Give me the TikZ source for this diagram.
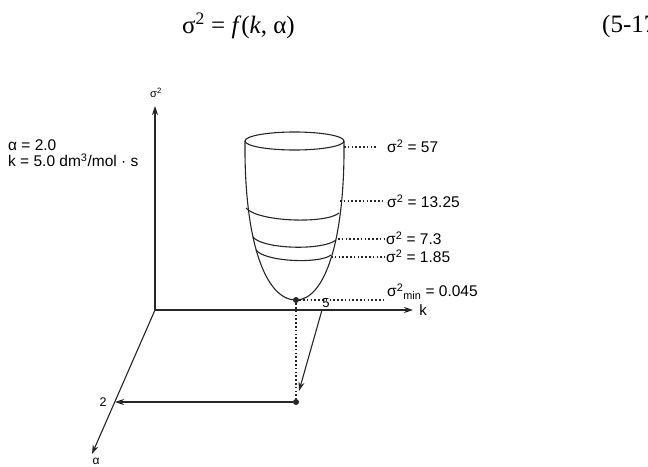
\documentclass[tikz,border=0pt]{standalone}
\usepackage{fontspec}
\setmainfont{Liberation Serif}
\newfontfamily\labelfont{Liberation Sans}
\usetikzlibrary{arrows.meta}
\tikzset{
  axis/.style={line width=1.1pt, black!85, -{Stealth[length=9pt,width=6pt]}},
  bowl/.style={line width=1.1pt, black!85},
  leader/.style={line width=1.4pt, black!85, dash pattern=on 1.6pt off 2.2pt},
  lbl/.style={font=\labelfont\fontsize{15.5}{17}\selectfont, inner sep=0pt, anchor=west},
  parlbl/.style={font=\labelfont\fontsize{15.5}{17}\selectfont, inner sep=0pt, anchor=west},
  axlbl/.style={font=\labelfont\fontsize{11}{13}\selectfont, inner sep=0pt},
  dot/.style={circle, fill=black!85, inner sep=0pt, minimum size=6pt},
}
\begin{document}
\begin{tikzpicture}[x=1pt,y=-1pt]
    \useasboundingbox (0,0) rectangle (648,466);
    % heading equation
    \node[font=\fontsize{25}{28}\selectfont, inner sep=0pt, anchor=west] (eq) at (182,26)
        {σ\textsuperscript{2} = \textit{f}(\textit{k}, α)};
    \node[font=\fontsize{25}{28}\selectfont, inner sep=0pt, anchor=west] (eqno) at (602,26) {(5-17)};
    % parameters
    \node[parlbl] (parA) at (8,145) {α = 2.0};
    \node[parlbl] (parK) at (8,160) {k = 5.0 dm\textsuperscript{3}/mol · s};
    % axes
    \coordinate (O) at (155,310);
    \coordinate (sTip) at (155,106);
    \coordinate (kTip) at (413,310);
    \coordinate (aTip) at (92,454);
    \draw[axis] (O) -- (sTip);
    \draw[axis] (O) -- (kTip);
    \draw[axis] (O) -- (aTip);
    \node[axlbl] (sLbl) at (156,93) {σ\textsuperscript{2}};
    \node[axlbl, font=\labelfont\fontsize{15}{17}\selectfont] (kLbl) at (423,310) {k};
    \node[axlbl, font=\labelfont\fontsize{12}{14}\selectfont] (aLbl) at (96,461) {α};
    % the bowl
    \coordinate (top) at (294.5,141);
    \coordinate (L) at (245,141);
    \coordinate (R) at (344,141);
    \coordinate (bot) at (296,300);
    \draw[bowl] (top) ellipse[x radius=49.5, y radius=9];
    \draw[bowl] (L) .. controls (244,240) and (265,300) .. (bot)
        .. controls (325,300) and (345,240) .. (R);
    % level curves
    \draw[bowl] (246,208) .. controls (258,222) and (326,224) .. (339,213);
    \draw[bowl] (253,237) .. controls (262,249) and (322,251) .. (336,240);
    \draw[bowl] (256,250) .. controls (265,262) and (320,264) .. (331,255);
    % minimum and its projection
    \node[dot] (minPt) at (296,300) {};
    \node[dot] (proj) at (296,402) {};
    % leaders and values
    \coordinate (e57) at (344,147);
    \coordinate (e13) at (340,201);
    \coordinate (e7) at (338,239);
    \coordinate (e1) at (331,257);
    \node[lbl] (l57) at (387,146) {σ\textsuperscript{2} = 57};
    \node[lbl] (l13) at (387,201) {σ\textsuperscript{2} = 13.25};
    \node[lbl] (l7) at (386,238) {σ\textsuperscript{2} = 7.3};
    \node[lbl] (l1) at (386,256) {σ\textsuperscript{2} = 1.85};
    \node[lbl] (lmin) at (387,292) {σ\textsuperscript{2}\textsubscript{min} = 0.045};
    \draw[leader] (e57) -- ([xshift=-9pt]l57.west |- e57);
    \draw[leader] (e13) -- ([xshift=-4pt]l13.west |- e13);
    \draw[leader] (e7) -- ([xshift=-1pt]l7.west |- e7);
    \draw[leader] (e1) -- ([xshift=-1pt]l1.west |- e1);
    \draw[leader] (minPt) -- ([xshift=-2pt]lmin.west |- minPt);
    % projection onto k and alpha
    \coordinate (k5) at (322,310);
    \coordinate (kaTip) at (299,391);
    \coordinate (a2) at (115,402);
    \node[axlbl, font=\labelfont\fontsize{13}{15}\selectfont] (five) at (326,303) {5};
    \node[axlbl, font=\labelfont\fontsize{12.5}{14}\selectfont] (two) at (103,402) {2};
    \draw[leader] (minPt) -- (proj);
    \draw[axis] (k5) -- (kaTip);
    \draw[axis] (proj) -- (a2);
\end{tikzpicture}
\end{document}
